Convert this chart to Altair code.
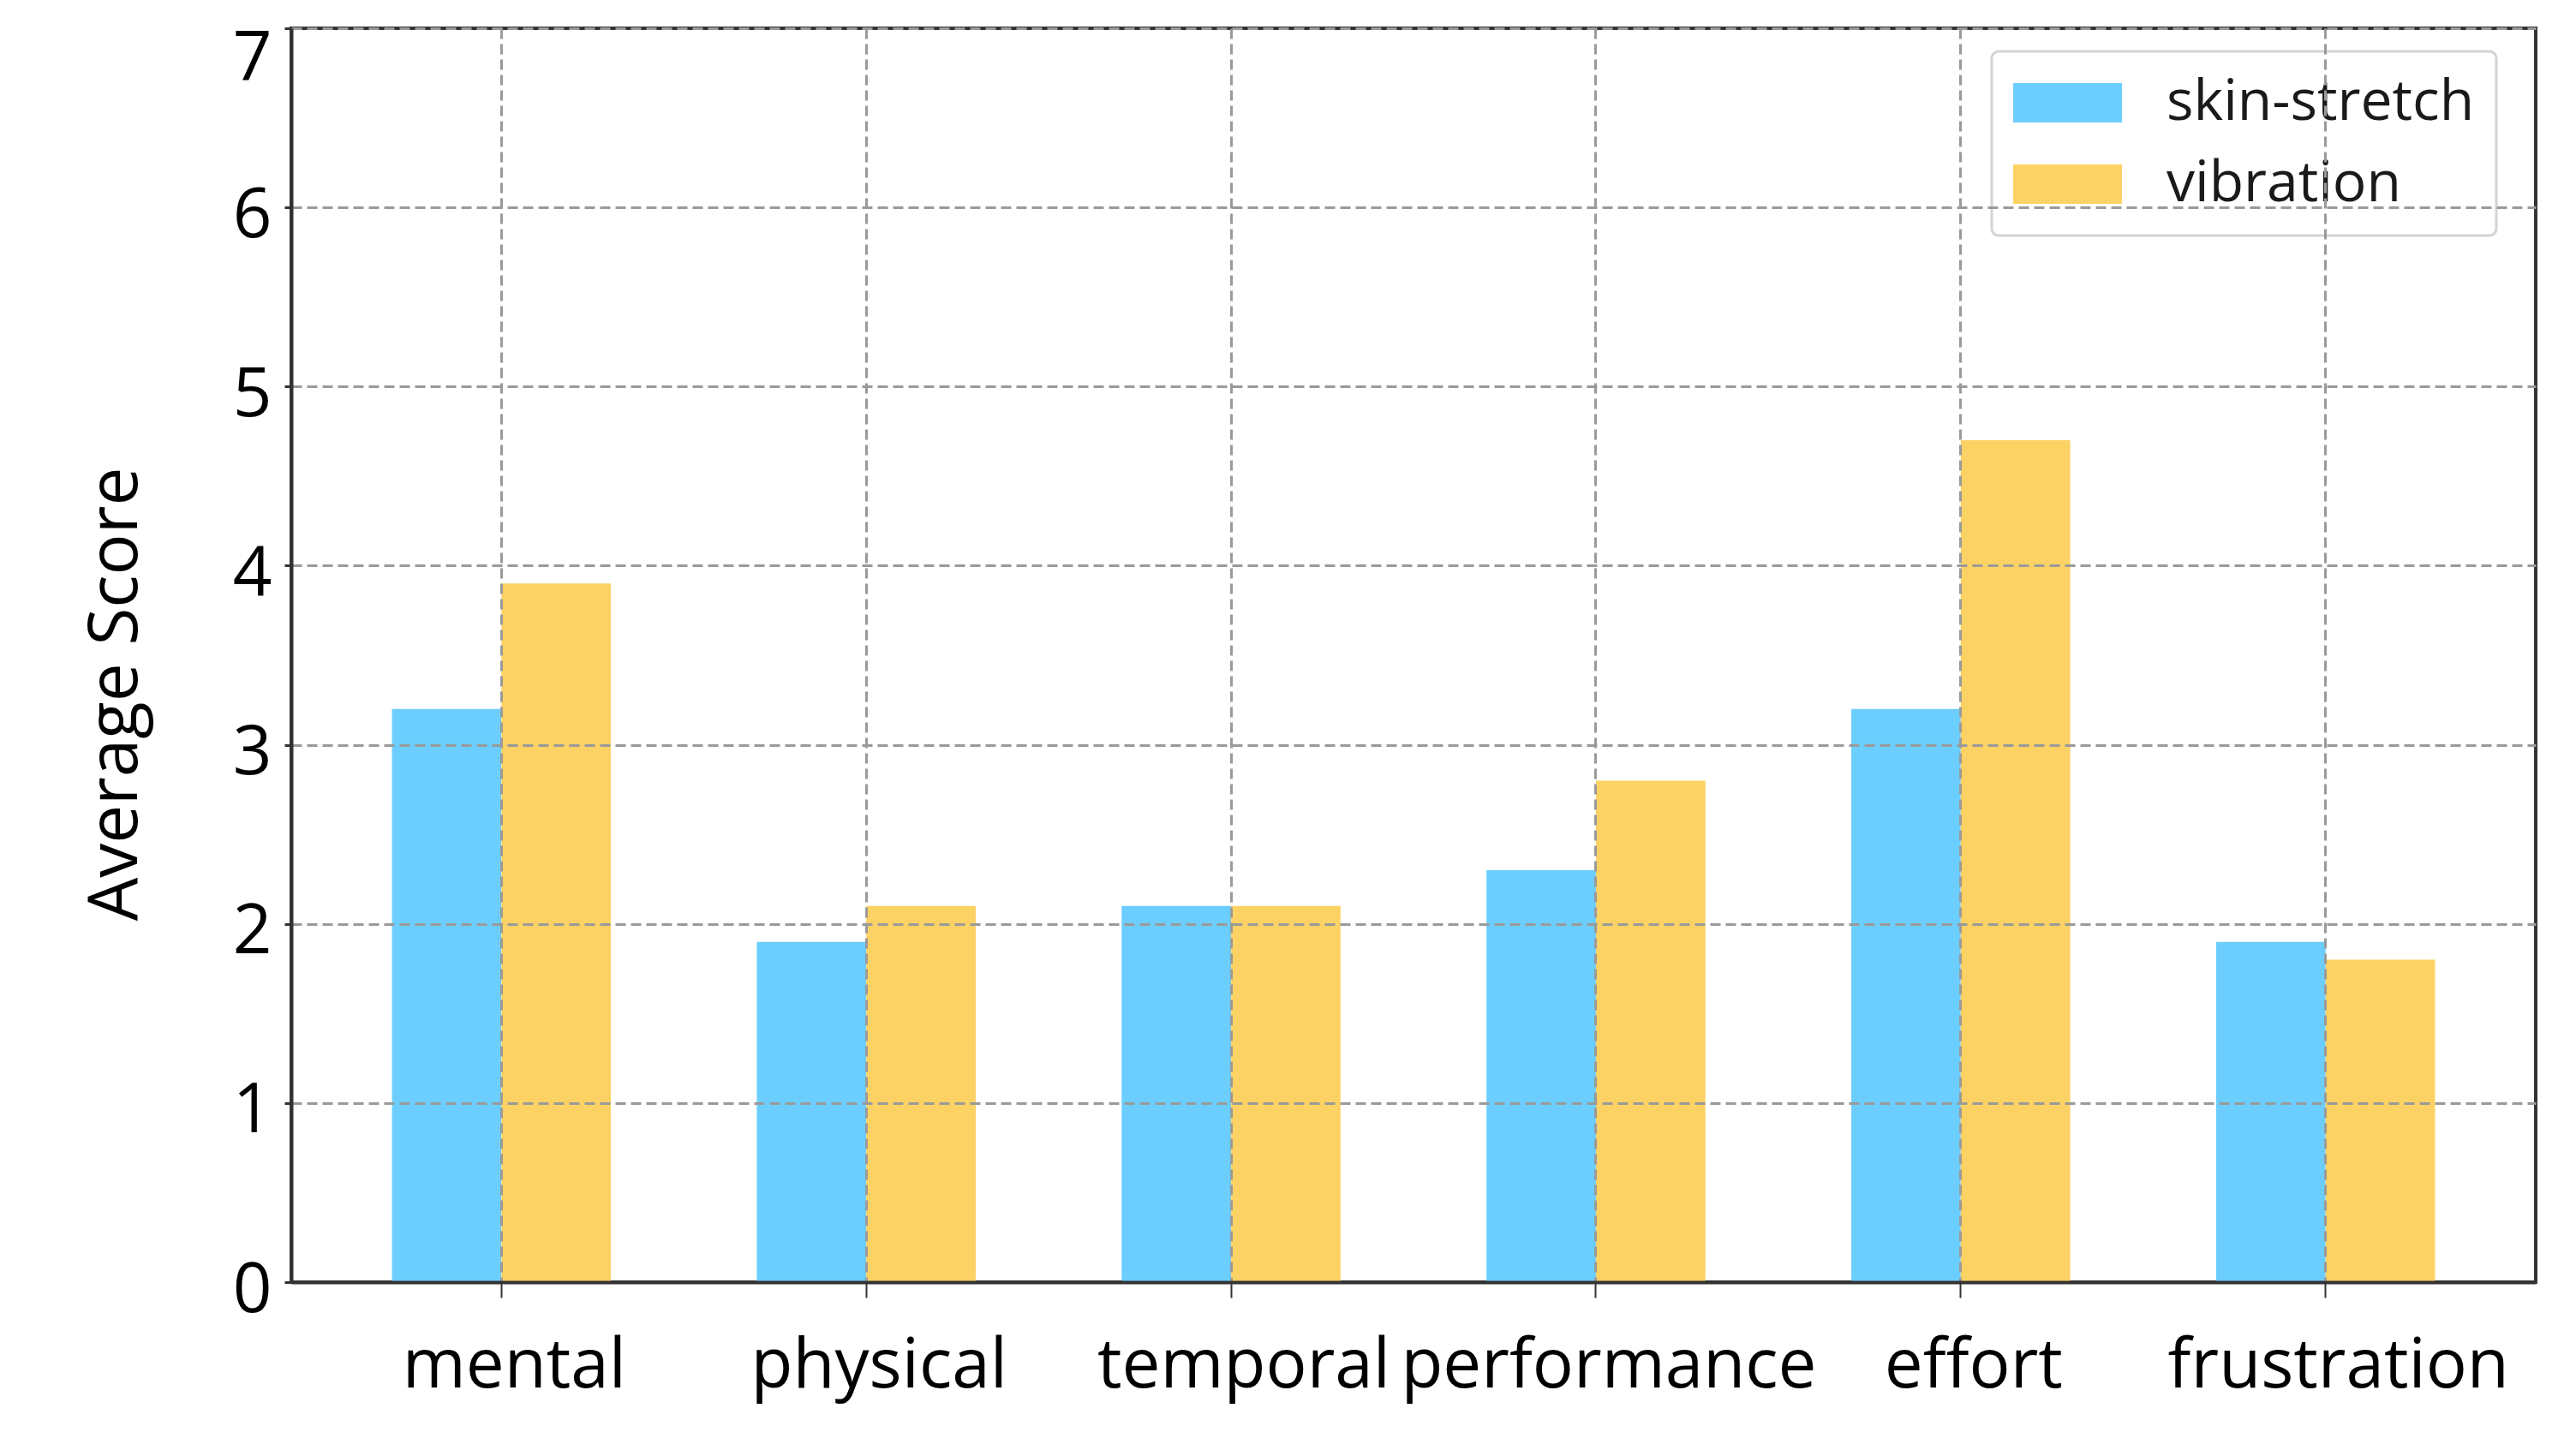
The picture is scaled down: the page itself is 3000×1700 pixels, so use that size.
import altair as alt
import pandas as pd

categories = ["mental", "physical", "temporal", "performance", "effort", "frustration"]
skin_stretch = [3.2, 1.9, 2.1, 2.3, 3.2, 1.9]
vibration = [3.9, 2.1, 2.1, 2.8, 4.7, 1.8]
series = ["skin-stretch", "vibration"]
colors = ["#6CCEFF", "#FDD264"]
y_ticks = [0, 1, 2, 3, 4, 5, 6, 7]

rows = []
for c, a, b in zip(categories, skin_stretch, vibration):
    rows.append({"category": c, "series": series[0], "value": a})
    rows.append({"category": c, "series": series[1], "value": b})
df = pd.DataFrame(rows)

FONT = "Open Sans"
GRID = "#9a9a9a"
DARK = "#333333"

bars = alt.Chart(df).mark_bar(opacity=1).encode(
    x=alt.X(
        "category:N",
        sort=categories,
        scale=alt.Scale(paddingInner=0.4, paddingOuter=0.276),
        axis=alt.Axis(
            title=None, labelAngle=0, labelFontSize=80, labelFont=FONT,
            labelColor="black", labelBaseline="alphabetic", labelPadding=104,
            labelOffset=15, labelLimit=0,
            tickSize=18, tickColor=DARK, tickWidth=2,
            grid=True, gridDash=[12, 6], gridColor=GRID, gridWidth=3,
            domain=True, domainColor=DARK, domainWidth=4, zindex=1,
        ),
    ),
    xOffset=alt.XOffset("series:N", sort=series),
    y=alt.Y(
        "value:Q",
        scale=alt.Scale(domain=[0, 7], nice=False, zero=True),
        axis=alt.Axis(
            values=y_ticks, title="Average Score", titleFont=FONT,
            titleFontSize=80, titleFontWeight="normal", titleColor="black",
            titleX=-205, titleY=777, titleAngle=270, titleAlign="center",
            titleBaseline="middle",
            labelFontSize=80, labelFont=FONT, labelColor="black", labelPadding=15,
            labelBaseline="middle",
            labelOffset=alt.condition("datum.value == 7", alt.value(36), alt.value(10)),
            labelLimit=0,
            tickSize=8, tickColor=DARK, tickWidth=3,
            grid=True, gridDash=[12, 6], gridColor=GRID, gridWidth=3,
            domain=True, domainColor=DARK, domainWidth=4, zindex=1,
        ),
    ),
    color=alt.Color(
        "series:N",
        sort=series,
        scale=alt.Scale(domain=series, range=colors),
        legend=alt.Legend(
            title=None, orient="none", legendX=1985, legendY=27,
            padding=25, fillColor="rgba(255,255,255,0.8)", strokeColor="#d4d4d4",
            cornerRadius=8,
            labelFont=FONT, labelFontSize=66, labelColor="#1a1a1a", labelOffset=52,
            labelLimit=0,
            symbolType="M-1,-0.362H1V0.362H-1Z", symbolSize=16129,
            symbolStrokeWidth=0, symbolOpacity=1, clipHeight=70, rowPadding=25,
        ),
    ),
).properties(
    width=2620,
    height=1464,
    autosize=alt.AutoSizeParams(type="none"),
    padding={"left": 332, "top": 25, "right": 30, "bottom": 180},
).configure_view(
    stroke=DARK, strokeWidth=4
).configure_legend(
    strokeWidth=3
)

chart = bars
chart.save("out.html", embed_options={"renderer": "svg", "actions": False})
